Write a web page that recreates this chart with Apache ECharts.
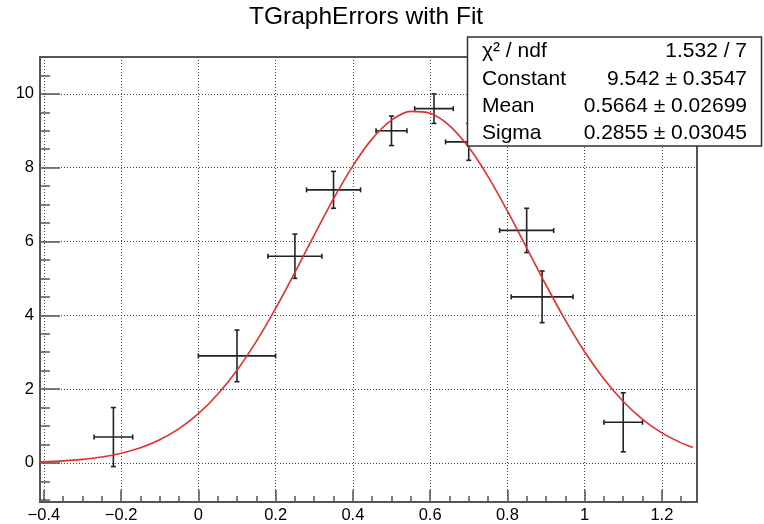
<!DOCTYPE html>
<html><head><meta charset="utf-8">
<script src="https://cdn.jsdelivr.net/npm/echarts@6/dist/echarts.min.js"></script>
<style>html,body{margin:0;padding:0;background:#fff}#c{width:764px;height:524px}</style>
</head><body><div id="c"></div>
<script>
const titleText = 'TGraphErrors with Fit';
// graph points (x, y, x-error, y-error)
const pointX  = [-0.22, 0.10, 0.25, 0.35, 0.50, 0.61, 0.70, 0.85, 0.89, 1.10];
const pointY  = [0.7, 2.9, 5.6, 7.4, 9.0, 9.6, 8.7, 6.3, 4.5, 1.1];
const pointEX = [0.05, 0.10, 0.07, 0.07, 0.04, 0.05, 0.06, 0.07, 0.08, 0.05];
const pointEY = [0.8, 0.7, 0.6, 0.5, 0.4, 0.4, 0.5, 0.6, 0.7, 0.8];
const fitX = [-0.41, -0.35, -0.3, -0.25, -0.2, -0.15, -0.1, -0.05, 0, 0.05, 0.1, 0.15, 0.2, 0.25, 0.3, 0.35, 0.4, 0.45, 0.5, 0.55, 0.6, 0.65, 0.7, 0.75, 0.8, 0.85, 0.9, 0.95, 1.0, 1.05, 1.1, 1.15, 1.2, 1.25, 1.28];
const fitY = [0.028, 0.055, 0.096, 0.160, 0.260, 0.410, 0.626, 0.928, 1.334, 1.859, 2.513, 3.294, 4.188, 5.163, 6.174, 7.160, 8.051, 8.781, 9.287, 9.526, 9.476, 9.142, 8.552, 7.760, 6.828, 5.826, 4.821, 3.869, 3.011, 2.273, 1.664, 1.181, 0.813, 0.543, 0.420];
// axis ticks
const xMajorTicks = [-0.4, -0.2, 0, 0.2, 0.4, 0.6, 0.8, 1, 1.2];
const xMinorTicks = [-0.35, -0.3, -0.25, -0.15, -0.1, -0.05, 0.05, 0.1, 0.15, 0.25, 0.3, 0.35, 0.45, 0.5, 0.55, 0.65, 0.7, 0.75, 0.85, 0.9, 0.95, 1.05, 1.1, 1.15, 1.25];
const yMajorTicks = [0, 2, 4, 6, 8, 10];
const yMinorTicks = [-1, -0.5, 0.5, 1, 1.5, 2.5, 3, 3.5, 4.5, 5, 5.5, 6.5, 7, 7.5, 8.5, 9, 9.5, 10.5];
// statistics box
const statsNames  = ['χ² / ndf', 'Constant', 'Mean', 'Sigma'];
const statsValues = ['1.532 / 7', '9.542 ± 0.3547', '0.5664 ± 0.02699', '0.2855 ± 0.03045'];

const FONT = '"Liberation Sans", Arial, Helvetica, sans-serif';
const FRAME = '#555555';
const fmt = v => String(v).replace('-', '\u2212');

const chart = echarts.init(document.getElementById('c'), null, {renderer: 'canvas'});

const errData = pointX.map((x, i) => [x, pointY[i], pointEX[i], pointEY[i]]);
const fitData = fitX.map((x, i) => [x, fitY[i]]);

const boxL = 467.5, boxT = 37, boxW = 294, boxH = 109;
const rowH = boxH / 4;
const graphics = [{
  type: 'rect', z: 100,
  shape: {x: boxL, y: boxT, width: boxW, height: boxH},
  style: {fill: '#fff', stroke: '#333', lineWidth: 1.5}
}];
statsNames.forEach((n, i) => {
  const cy = boxT + rowH * (i + 0.5) + 1;
  graphics.push({type: 'text', z: 101, x: 482, y: cy,
    style: {text: n, fill: '#000', fontSize: 21, fontFamily: FONT, align: 'left', verticalAlign: 'middle'}});
  graphics.push({type: 'text', z: 101, x: 747, y: cy,
    style: {text: statsValues[i], fill: '#000', fontSize: 21, fontFamily: FONT, align: 'right', verticalAlign: 'middle'}});
});

const gridLine = {show: true, lineStyle: {color: '#444', width: 1, type: [1, 2]}};

chart.setOption({
  animation: false,
  backgroundColor: '#fff',
  title: {
    text: titleText, left: 249, top: 5, padding: 0,
    textStyle: {fontSize: 24.5, fontWeight: 'normal', color: '#000', fontFamily: FONT}
  },
  grid: {left: 40, top: 57, width: 657, height: 445, show: true, borderColor: FRAME, borderWidth: 2, backgroundColor: 'transparent'},
  xAxis: [{
    type: 'value', min: -0.41, max: 1.291, position: 'bottom',
    axisLine: {show: true, onZero: false, lineStyle: {color: FRAME, width: 2}},
    axisTick: {show: true, inside: true, length: 12, customValues: xMajorTicks, lineStyle: {color: FRAME, width: 1.5}},
    axisLabel: {show: true, customValues: xMajorTicks, margin: 5, fontSize: 16.5, color: '#000', fontFamily: FONT, formatter: fmt},
    splitLine: gridLine
  }, {
    type: 'value', min: -0.41, max: 1.291, position: 'bottom',
    axisLine: {show: false, onZero: false},
    axisTick: {show: true, inside: true, length: 6, customValues: xMinorTicks, lineStyle: {color: FRAME, width: 1.5}},
    axisLabel: {show: false},
    splitLine: {show: false}
  }],
  yAxis: [{
    type: 'value', min: -1.06, max: 11.0, position: 'left',
    axisLine: {show: true, onZero: false, lineStyle: {color: FRAME, width: 2}},
    axisTick: {show: true, inside: true, length: 20, customValues: yMajorTicks, lineStyle: {color: FRAME, width: 1.5}},
    axisLabel: {show: true, customValues: yMajorTicks, margin: 6, fontSize: 16.5, color: '#000', fontFamily: FONT, formatter: fmt},
    splitLine: gridLine
  }, {
    type: 'value', min: -1.06, max: 11.0, position: 'left',
    axisLine: {show: false, onZero: false},
    axisTick: {show: true, inside: true, length: 10, customValues: yMinorTicks, lineStyle: {color: FRAME, width: 1.5}},
    axisLabel: {show: false},
    splitLine: {show: false}
  }],
  series: [{
    type: 'custom', name: 'graph', xAxisIndex: 0, yAxisIndex: 0, z: 3,
    data: errData,
    renderItem: function (params, api) {
      const x = api.value(0), y = api.value(1), ex = api.value(2), ey = api.value(3);
      const l = api.coord([x - ex, y]), r = api.coord([x + ex, y]);
      const t = api.coord([x, y + ey]), b = api.coord([x, y - ey]);
      const c = 2.5;
      const st = {stroke: '#222', lineWidth: 1.6, fill: null};
      const line = (x1, y1, x2, y2) => ({type: 'line', shape: {x1, y1, x2, y2}, style: st});
      return {type: 'group', children: [
        line(l[0], l[1], r[0], r[1]),
        line(t[0], t[1], b[0], b[1]),
        line(l[0], l[1] - c, l[0], l[1] + c),
        line(r[0], r[1] - c, r[0], r[1] + c),
        line(t[0] - c, t[1], t[0] + c, t[1]),
        line(b[0] - c, b[1], b[0] + c, b[1])
      ]};
    }
  }, {
    type: 'line', name: 'fit', xAxisIndex: 0, yAxisIndex: 0, z: 4,
    data: fitData, smooth: 0.3, showSymbol: false, symbol: 'none',
    lineStyle: {color: '#e3302f', width: 1.6}
  }],
  graphic: graphics
});
</script></body></html>
